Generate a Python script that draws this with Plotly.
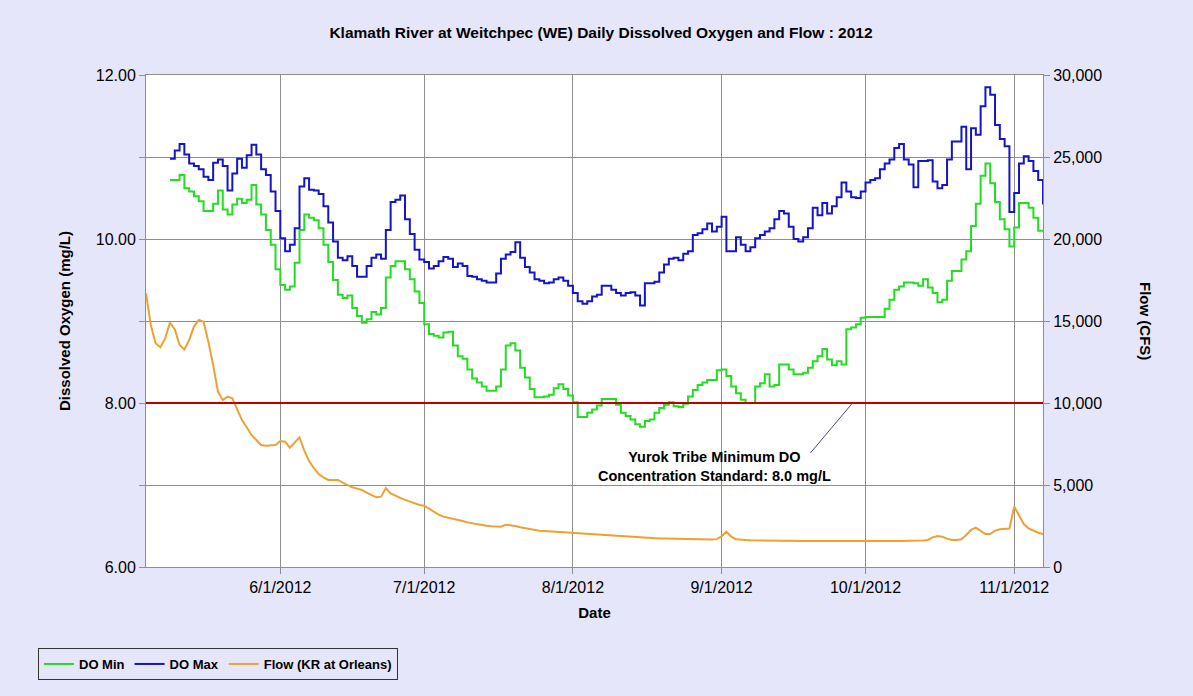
import plotly.graph_objects as go
import pandas as pd

# ---------------- data ----------------
do_start = "2012-05-09"
do_max = [
    10.98, 11.08, 11.16, 11.03, 10.92, 10.89, 10.85, 10.76, 10.72, 10.93,
    10.97, 10.89, 10.59, 10.80, 10.98, 10.87, 11.02, 11.15, 11.03, 10.85,
    10.78, 10.58, 10.34, 10.01, 9.85, 9.93, 10.13, 10.64, 10.74, 10.60,
    10.59, 10.55, 10.40, 10.20, 9.97, 9.77, 9.74, 9.79, 9.67, 9.54,
    9.54, 9.67, 9.77, 9.81, 9.76, 10.11, 10.45, 10.48, 10.53, 10.24,
    10.06, 9.87, 9.75, 9.72, 9.64, 9.67, 9.73, 9.78, 9.76, 9.66,
    9.70, 9.67, 9.55, 9.54, 9.51, 9.49, 9.47, 9.47, 9.58, 9.76,
    9.81, 9.84, 9.96, 9.77, 9.66, 9.59, 9.51, 9.49, 9.46, 9.47,
    9.51, 9.53, 9.49, 9.43, 9.34, 9.24, 9.21, 9.24, 9.30, 9.32,
    9.43, 9.43, 9.38, 9.34, 9.31, 9.34, 9.35, 9.31, 9.19, 9.46,
    9.46, 9.48, 9.59, 9.69, 9.76, 9.77, 9.74, 9.82, 9.85, 10.05,
    10.07, 10.12, 10.19, 10.09, 10.15, 10.27, 9.85, 9.85, 10.02, 9.93,
    9.85, 9.90, 10.01, 10.05, 10.09, 10.13, 10.24, 10.34, 10.31, 10.15,
    10.00, 9.97, 10.02, 10.13, 10.38, 10.29, 10.44, 10.31, 10.40, 10.51,
    10.69, 10.58, 10.51, 10.50, 10.58, 10.69, 10.72, 10.74, 10.85, 10.92,
    10.97, 11.11, 11.16, 10.97, 10.91, 10.63, 10.95, 10.95, 10.96, 10.70,
    10.62, 10.66, 10.97, 11.19, 11.19, 11.37, 10.85, 11.35, 11.27, 11.62,
    11.85, 11.76, 11.39, 11.22, 11.13, 10.33, 10.56, 10.92, 11.01, 10.95,
    10.83, 10.72, 10.42,
]
do_min = [
    10.72, 10.72, 10.78, 10.62, 10.58, 10.52, 10.46, 10.34, 10.34, 10.43,
    10.59, 10.36, 10.30, 10.42, 10.49, 10.44, 10.48, 10.66, 10.42, 10.30,
    10.11, 9.93, 9.63, 9.44, 9.38, 9.42, 9.71, 10.11, 10.30, 10.26,
    10.23, 10.13, 9.93, 9.72, 9.50, 9.32, 9.28, 9.31, 9.16, 9.06,
    8.98, 9.02, 9.11, 9.08, 9.16, 9.53, 9.67, 9.73, 9.73, 9.63,
    9.51, 9.36, 9.22, 8.96, 8.84, 8.82, 8.80, 8.86, 8.87, 8.70,
    8.57, 8.54, 8.41, 8.30, 8.25, 8.20, 8.15, 8.15, 8.20, 8.41,
    8.70, 8.73, 8.64, 8.43, 8.31, 8.17, 8.07, 8.07, 8.08, 8.10,
    8.18, 8.23, 8.17, 8.09, 8.01, 7.83, 7.83, 7.88, 7.92, 7.97,
    8.05, 8.05, 8.05, 7.98, 7.88, 7.84, 7.80, 7.74, 7.71, 7.78,
    7.80, 7.88, 7.94, 7.98, 8.01, 7.96, 7.95, 7.99, 8.08, 8.16,
    8.22, 8.25, 8.28, 8.28, 8.40, 8.41, 8.33, 8.20, 8.12, 8.04,
    8.00, 8.00, 8.20, 8.24, 8.35, 8.20, 8.22, 8.47, 8.47, 8.41,
    8.35, 8.35, 8.37, 8.43, 8.51, 8.57, 8.66, 8.53, 8.46, 8.51,
    8.47, 8.90, 8.92, 8.96, 9.04, 9.05, 9.05, 9.05, 9.05, 9.15,
    9.26, 9.38, 9.42, 9.47, 9.47, 9.46, 9.43, 9.51, 9.41, 9.34,
    9.23, 9.26, 9.49, 9.61, 9.61, 9.75, 9.85, 10.16, 10.43, 10.77,
    10.92, 10.68, 10.45, 10.24, 10.12, 9.91, 10.14, 10.44, 10.44, 10.38,
    10.26, 10.10, 10.10,
]
flow_start = "2012-05-04"
flow_cfs = [
    16690, 14760, 13640, 13400, 13940, 14900, 14490, 13540, 13270, 13840,
    14660, 15060, 14960, 13740, 12320, 10690, 10180, 10390, 10290, 9570,
    8960, 8520, 8050, 7740, 7440, 7400, 7400, 7440, 7680, 7640,
    7280, 7600, 7910, 7090, 6460, 6020, 5670, 5470, 5310, 5310,
    5310, 5140, 4980, 4860, 4780, 4700, 4530, 4390, 4250, 4290,
    4800, 4490, 4330, 4210, 4090, 3980, 3880, 3780, 3740, 3550,
    3340, 3190, 3070, 3010, 2950, 2870, 2810, 2720, 2660, 2600,
    2560, 2520, 2480, 2460, 2460, 2580, 2560, 2500, 2420, 2360,
    2300, 2260, 2210, 2200, 2180, 2150, 2130, 2110, 2090, 2070,
    2050, 2030, 2010, 2000, 1990, 1990, 1960, 1930, 1910, 1890,
    1870, 1840, 1810, 1790, 1780, 1760, 1750, 1740, 1740, 1730,
    1720, 1710, 1700, 1690, 1690, 1690, 1690, 1680, 1670, 1700,
    1870, 2150, 1850, 1690, 1650, 1640, 1630, 1630, 1620, 1620,
    1610, 1610, 1600, 1600, 1600, 1590, 1590, 1590, 1580, 1580,
    1580, 1570, 1570, 1570, 1560, 1560, 1560, 1550, 1550, 1550,
    1550, 1560, 1560, 1570, 1570, 1580, 1580, 1590, 1590, 1600,
    1600, 1610, 1620, 1650, 1810, 1890, 1850, 1730, 1650, 1650,
    1690, 1950, 2260, 2400, 2220, 2010, 2010, 2220, 2300, 2300,
    2340, 3680, 3110, 2620, 2360, 2220, 2090, 2010,
]
standard_do = 8.0
x_range = ["2012-05-04", "2012-11-07"]
month_ticks = ["2012-06-01", "2012-07-01", "2012-08-01", "2012-09-01", "2012-10-01", "2012-11-01"]
do_ticks = [6, 7, 8, 9, 10, 11, 12]
do_ticktext = ["6.00", "", "8.00", "", "10.00", "", "12.00"]
flow_ticks = [0, 5000, 10000, 15000, 20000, 25000, 30000]
note_text = "Yurok Tribe Minimum DO<br>Concentration Standard: 8.0 mg/L"
note_pos = ("2012-08-30 12:00", 7.23)
pointer = (("2012-09-19 12:00", 7.39), ("2012-09-28 07:00", 8.0))

do_dates = pd.date_range(do_start, periods=len(do_max), freq="D")
flow_dates = pd.date_range(flow_start, periods=len(flow_cfs), freq="D")

# ---------------- styles ----------------
FONT = "Liberation Sans, Arial, sans-serif"
BG = "#E6E6FA"
GRID = "#8E8E8E"
GREEN = "#22DD22"
BLUE = "#1414C8"
ORANGE = "#F0A030"
RED = "#C00000"

fig = go.Figure()
fig.add_trace(go.Scatter(x=do_dates, y=do_min, name="DO Min", mode="lines",
                         line=dict(color=GREEN, width=2, shape="hv")))
fig.add_trace(go.Scatter(x=do_dates, y=do_max, name="DO Max", mode="lines",
                         line=dict(color=BLUE, width=2, shape="hv")))
fig.add_trace(go.Scatter(x=flow_dates, y=flow_cfs, name="Flow (KR at Orleans)", mode="lines",
                         line=dict(color=ORANGE, width=2), yaxis="y2"))

# standard line
fig.add_shape(type="line", xref="paper", x0=0, x1=1, yref="y", y0=standard_do, y1=standard_do,
              line=dict(color=RED, width=2), layer="above")
# pointer line
fig.add_shape(type="line", xref="x", yref="y",
              x0=pointer[0][0], y0=pointer[0][1], x1=pointer[1][0], y1=pointer[1][1],
              line=dict(color="#4A4A8A", width=1))

fig.add_annotation(x=note_pos[0], y=note_pos[1], xref="x", yref="y", text=note_text,
                   showarrow=False,
                   font=dict(family=FONT, size=14.5, color="#000", weight="bold"),
                   align="center")

# right axis title (reads top to bottom)
fig.add_annotation(x=1 + (1146 - 1043) / 897, y=0.5, xref="paper", yref="paper",
                   xanchor="center", yanchor="middle",
                   text="Flow (CFS)", textangle=90, showarrow=False,
                   font=dict(family=FONT, size=15, color="#000", weight="bold"))

TICKFONT = dict(family=FONT, size=16, color="#000")
TITLEFONT = dict(family=FONT, size=15, color="#000", weight="bold")
axis_common = dict(showline=True, linecolor=GRID, linewidth=1, ticks="outside",
                   ticklen=6, tickcolor=GRID, gridcolor=GRID, gridwidth=1,
                   tickfont=TICKFONT, zeroline=False)

fig.update_layout(
    width=1193, height=696,
    paper_bgcolor=BG, plot_bgcolor="white",
    margin=dict(l=146, r=150, t=75, b=129, autoexpand=False),
    title=dict(text="Klamath River at Weitchpec (WE) Daily Dissolved Oxygen and Flow : 2012",
               x=601 / 1193, xref="container", xanchor="center",
               y=1 - 33 / 696, yref="container", yanchor="middle",
               font=dict(family=FONT, size=15.5, color="#000", weight="bold")),
    xaxis=dict(type="date", range=x_range, tickvals=month_ticks, tickformat="%-m/%-d/%Y",
               showgrid=True, mirror=True,
               title=dict(text="Date", font=TITLEFONT, standoff=12),
               **axis_common),
    yaxis=dict(range=[6, 12], tickvals=do_ticks, ticktext=do_ticktext, showgrid=True,
               title=dict(text="Dissolved Oxygen (mg/L)", font=TITLEFONT, standoff=21),
               **axis_common),
    yaxis2=dict(range=[0, 30000], tickvals=flow_ticks,
                tickformat=",", overlaying="y", side="right", showgrid=False,
                **axis_common),
    legend=dict(orientation="h", x=(38 - 146) / 897, y=(567 - 648) / 492,
                xanchor="left", yanchor="top", bgcolor=BG, bordercolor="#333333", borderwidth=1,
                font=dict(family=FONT, size=13, color="#000", weight="bold"),
                itemwidth=30, tracegroupgap=0),
    showlegend=True,
)

fig.write_html("out.html", config={"displayModeBar": False},
               post_script="document.body.style.margin='0';document.body.style.background='#E6E6FA';")
